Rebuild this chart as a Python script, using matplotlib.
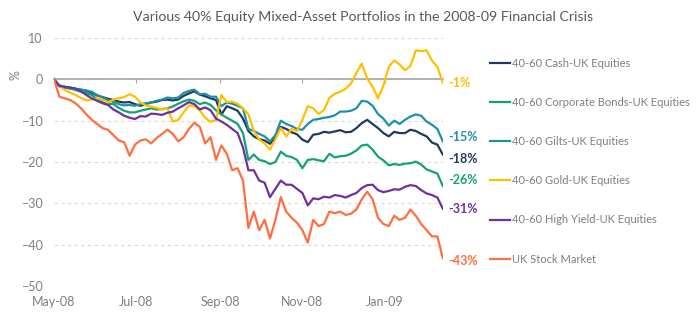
import matplotlib.pyplot as plt
import pandas as pd

plt.rcParams['font.family'] = ['Lato', 'DejaVu Sans']

# Cumulative return (%) since 1 May 2008, sampled every 4 days
dates = pd.date_range('2008-05-01', periods=73, freq='4D')

cash_uk = [0, -1.7, -2.0, -2.2, -2.4, -2.5, -2.8, -3.3, -3.9, -4.3,
           -4.7, -5.0, -5.4, -5.6, -5.5, -6.0, -6.4, -6.0, -5.6, -5.4,
           -5.0, -4.9, -5.1, -4.9, -4.0, -3.4, -2.9, -3.7, -4.1, -4.6,
           -5.0, -8.5, -6.5, -7.0, -7.6, -9.5, -12.5, -13.8, -14.5, -14.8,
           -15.6, -14.0, -11.5, -12.0, -12.8, -13.3, -14.6, -15.2, -13.4, -13.2,
           -12.7, -12.9, -12.6, -12.3, -12.8, -12.7, -11.8, -10.6, -9.8, -10.8,
           -11.8, -13.0, -13.8, -12.7, -13.0, -13.0, -12.2, -12.5, -13.2, -13.8,
           -15.3, -15.8, -18.2]

corp_uk = [0, -1.5, -1.9, -2.2, -2.6, -3.0, -3.3, -3.8, -4.8, -5.5,
           -5.9, -6.0, -6.9, -7.6, -8.0, -8.0, -7.6, -7.3, -7.0, -7.3,
           -7.2, -7.0, -6.6, -5.9, -5.3, -4.9, -5.2, -6.0, -5.6, -6.2,
           -7.5, -8.5, -9.3, -10.0, -10.8, -13.0, -19.5, -18.2, -19.5, -19.8,
           -20.5, -20.0, -17.5, -18.5, -18.8, -19.5, -21.5, -19.5, -19.3, -19.6,
           -19.8, -18.0, -18.9, -18.6, -18.5, -18.0, -17.2, -16.0, -15.8, -17.0,
           -18.7, -19.6, -20.8, -20.5, -20.7, -20.4, -20.3, -19.9, -20.6, -21.8,
           -22.3, -22.8, -25.8]

gilts_uk = [0, -1.5, -1.8, -2.0, -2.3, -2.5, -2.7, -3.0, -3.8, -4.4,
            -5.0, -5.5, -6.0, -6.3, -6.2, -6.4, -6.0, -5.8, -5.6, -5.2,
            -4.9, -4.4, -4.6, -4.4, -3.3, -2.8, -2.5, -3.6, -3.5, -4.2,
            -4.2, -6.5, -5.6, -5.9, -6.4, -7.0, -12.0, -12.5, -13.2, -13.8,
            -15.0, -13.5, -10.0, -10.8, -11.3, -12.0, -12.2, -10.8, -9.8, -9.6,
            -9.3, -9.1, -8.7, -7.8, -7.8, -7.6, -7.0, -5.2, -5.4, -6.4,
            -8.4, -9.5, -11.2, -10.0, -10.8, -9.8, -9.0, -8.5, -8.8, -10.2,
            -11.0, -12.0, -15.0]

gold_uk = [0, -1.6, -2.6, -3.2, -3.8, -4.5, -5.1, -4.9, -4.6, -5.0,
           -5.6, -4.9, -4.6, -4.3, -3.6, -4.2, -5.6, -6.3, -6.6, -6.9,
           -7.3, -7.0, -10.2, -9.8, -8.0, -6.3, -6.5, -7.5, -9.3, -10.3,
           -9.8, -3.8, -5.5, -5.4, -5.9, -7.0, -8.5, -12.5, -14.6, -15.5,
           -17.0, -14.5, -11.8, -13.8, -12.0, -12.5, -9.8, -6.5, -7.0, -8.4,
           -7.4, -4.5, -3.5, -3.0, -2.3, -1.0, 1.5, 3.8, 0.2, -1.8,
           -4.6, -1.5, 3.0, 4.6, 3.6, 2.2, 3.2, 7.0, 6.8, 7.0,
           4.5, 3.0, -0.8]

hy_uk = [0, -1.6, -1.8, -2.0, -2.2, -2.9, -3.8, -4.6, -5.2, -5.8,
         -6.2, -7.3, -8.0, -8.8, -9.3, -9.6, -8.9, -9.0, -8.3, -8.4,
         -8.6, -8.1, -7.8, -7.0, -6.3, -5.5, -6.0, -7.3, -6.8, -7.5,
         -9.5, -10.2, -11.0, -12.0, -13.0, -16.5, -22.0, -22.0, -24.5, -25.0,
         -28.5, -26.5, -24.5, -25.5, -25.5, -26.5, -27.5, -30.5, -28.8, -29.0,
         -28.4, -28.6, -28.0, -28.2, -28.6, -28.0, -27.5, -26.3, -25.6, -25.5,
         -26.8, -27.3, -27.0, -26.6, -26.7, -26.0, -25.6, -25.8, -26.8, -27.6,
         -28.0, -28.6, -31.3]

uk_market = [0, -4.2, -4.6, -5.0, -5.8, -7.0, -8.5, -9.8, -10.8, -11.8,
             -12.2, -13.5, -14.8, -15.2, -18.5, -15.8, -14.8, -14.5, -15.5, -14.2,
             -13.2, -12.2, -13.2, -15.0, -14.0, -12.0, -10.5, -11.5, -15.5, -14.0,
             -19.5, -16.0, -18.0, -22.0, -21.5, -24.5, -36.0, -32.0, -36.5, -34.0,
             -38.5, -34.0, -28.5, -32.0, -33.5, -34.7, -36.5, -39.5, -34.0, -35.5,
             -35.0, -32.0, -32.4, -32.0, -32.8, -32.5, -31.5, -29.0, -27.2, -29.0,
             -33.5, -35.0, -35.5, -33.0, -34.0, -33.5, -31.5, -33.0, -35.0, -36.5,
             -38.0, -38.0, -43.3]

series_names = ['40-60 Cash-UK Equities', '40-60 Corporate Bonds-UK Equities',
                '40-60 Gilts-UK Equities', '40-60 Gold-UK Equities',
                '40-60 High Yield-UK Equities', 'UK Stock Market']
series_values = [cash_uk, corp_uk, gilts_uk, gold_uk, hy_uk, uk_market]
colors = ['#1F3A5F', '#15A271', '#1D91A6', '#FFC000', '#7030A0', '#FF6E40']
# vertical nudges (points) so the end labels don't collide
label_dy = [-3, 4, 3, 0, 0, -2]

tick_dates = pd.to_datetime(['2008-05-01', '2008-07-01', '2008-09-01',
                             '2008-11-01', '2009-01-01'])
tick_labels = ['May-08', 'Jul-08', 'Sep-08', 'Nov-08', 'Jan-09']

grey = '#7F7F7F'

fig = plt.figure(figsize=(6.97, 3.25), dpi=100)
ax = fig.add_axes([54 / 697, 39 / 325, 388.8 / 697, 248 / 325])

lines = []
for name, vals, col in zip(series_names, series_values, colors):
    ln, = ax.plot(dates, vals, color=col, lw=1.6, label=name)
    lines.append(ln)

for vals, col, dy in zip(series_values, colors, label_dy):
    ax.annotate(f'{vals[-1]:.0f}%', xy=(dates[-1], vals[-1]),
                xytext=(4, dy), textcoords='offset points',
                color=col, fontsize=9, fontweight='bold',
                va='center', ha='left', annotation_clip=False)

ax.set_xlim(dates[0], dates[-1])
ax.set_ylim(-50, 10)
ax.set_yticks(range(-50, 11, 10))
ax.yaxis.grid(True, ls=(0, (3, 3)), color='#D9D9D9', lw=0.8)
ax.set_axisbelow(True)

for side in ['top', 'right', 'left']:
    ax.spines[side].set_visible(False)
ax.spines['bottom'].set_position(('data', 0))
ax.spines['bottom'].set_color('#A6A6A6')
ax.spines['bottom'].set_linewidth(1.2)
ax.spines['bottom'].set_zorder(1)

ax.set_xticks(tick_dates)
ax.tick_params(axis='x', direction='out', length=3, color='#A6A6A6',
               labelbottom=False)
ax.tick_params(axis='y', length=0, pad=8, labelsize=9, labelcolor=grey)

sec = ax.secondary_xaxis('bottom')
sec.set_xticks(tick_dates, tick_labels)
sec.spines['bottom'].set_visible(False)
sec.tick_params(length=0, pad=7, labelsize=9, labelcolor=grey)

fig.text(15 / 697, 1 - 75 / 325, '%', rotation=90, color=grey,
         fontsize=9, ha='center', va='center')

fig.text(363 / 697, 1 - 17 / 325,
         'Various 40% Equity Mixed-Asset Portfolios in the 2008-09 Financial Crisis',
         ha='center', va='center', fontsize=10.2, color='#595959')

fig.legend(handles=lines, loc='upper left',
           bbox_to_anchor=(480 / 697, 1 - 48 / 325),
           frameon=False, fontsize=8, labelcolor=grey, borderpad=0.4,
           handlelength=1.8, handletextpad=0.2, labelspacing=2.53)

fig.savefig('out.png', dpi=100)
